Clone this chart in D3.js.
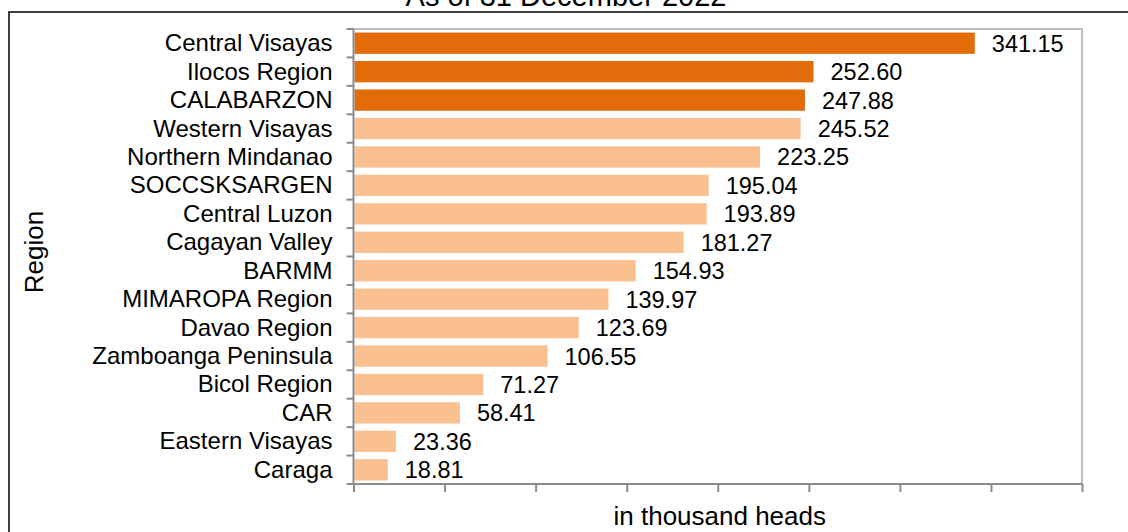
<!DOCTYPE html>
<html>
<head>
<meta charset="utf-8">
<script src="https://cdn.jsdelivr.net/npm/d3@7"></script>
<style>
  html, body { margin: 0; padding: 0; background: #fff; }
  svg { display: block; font-family: "Liberation Sans", Arial, sans-serif; }
</style>
</head>
<body>
<svg id="chart" width="1128" height="532"></svg>
<script>
// Regions ranked by inventory, in thousand heads
const regions = [
  "Central Visayas", "Ilocos Region", "CALABARZON", "Western Visayas",
  "Northern Mindanao", "SOCCSKSARGEN", "Central Luzon", "Cagayan Valley",
  "BARMM", "MIMAROPA Region", "Davao Region", "Zamboanga Peninsula",
  "Bicol Region", "CAR", "Eastern Visayas", "Caraga"
];
const heads = [
  341.15, 252.60, 247.88, 245.52,
  223.25, 195.04, 193.89, 181.27,
  154.93, 139.97, 123.69, 106.55,
  71.27, 58.41, 23.36, 18.81
];
const topCount = 3;
const xTicks = [0, 50, 100, 150, 200, 250, 300, 350, 400];
const titleText = "As of 31 December 2022";
const xTitle = "in thousand heads";
const yTitle = "Region";

const svg = d3.select("#chart");
const plot = { left: 353.5, right: 1082, top: 29, bottom: 484 };

// outer frame (runs off the right and bottom edges)
svg.append("rect")
  .attr("x", 9).attr("y", 12)
  .attr("width", 1140).attr("height", 540)
  .attr("fill", "none").attr("stroke", "#000").attr("stroke-width", 1.5);

// title, mostly above the visible area
svg.append("text")
  .attr("x", 566).attr("y", 6)
  .attr("text-anchor", "middle")
  .attr("font-size", 29)
  .attr("fill", "#000")
  .text(titleText);

const x = d3.scaleLinear().domain([0, 400]).range([plot.left, plot.right]);
const y = d3.scaleBand().domain(regions).range([plot.top, plot.bottom]).paddingInner(0.25).paddingOuter(0.125);

// plot area border (top and right)
svg.append("path")
  .attr("d", `M${plot.left},${plot.top}H${plot.right}V${plot.bottom}`)
  .attr("fill", "none").attr("stroke", "#BFBFBF").attr("stroke-width", 2);

// bars
svg.append("g").selectAll("rect")
  .data(regions)
  .join("rect")
  .attr("x", x(0) + 1)
  .attr("y", d => y(d))
  .attr("width", (d, i) => x(heads[i]) - x(0) - 1)
  .attr("height", y.bandwidth())
  .attr("fill", (d, i) => i < topCount ? "#E36C0A" : "#FAC090");

// value labels
svg.append("g").selectAll("text")
  .data(regions)
  .join("text")
  .attr("x", (d, i) => x(heads[i]) + 17)
  .attr("y", d => y(d) + y.bandwidth() / 2 + 8.5)
  .attr("font-size", 23.5)
  .attr("fill", "#000")
  .text((d, i) => heads[i].toFixed(2));

// y axis: line, band ticks, category labels
const yAxis = svg.append("g");
yAxis.append("line")
  .attr("x1", plot.left).attr("x2", plot.left)
  .attr("y1", plot.top).attr("y2", plot.bottom)
  .attr("stroke", "#8C8C8C").attr("stroke-width", 2);
const bandEdges = regions.map(d => y(d) - y.step() * y.paddingInner() / 2).concat([plot.bottom]);
yAxis.selectAll("line.tick")
  .data(bandEdges)
  .join("line")
  .attr("class", "tick")
  .attr("x1", plot.left - 7).attr("x2", plot.left)
  .attr("y1", d => d).attr("y2", d => d)
  .attr("stroke", "#8C8C8C").attr("stroke-width", 2);
yAxis.selectAll("text")
  .data(regions)
  .join("text")
  .attr("x", plot.left - 21)
  .attr("y", d => y(d) + y.bandwidth() / 2 + 8)
  .attr("text-anchor", "end")
  .attr("font-size", 24)
  .attr("fill", "#000")
  .text(d => d);

// x axis: line and unlabelled ticks
const xAxis = svg.append("g")
  .attr("transform", `translate(0,${plot.bottom})`)
  .call(d3.axisBottom(x).tickValues(xTicks).tickSize(8).tickFormat(""));
xAxis.select(".domain").attr("stroke", "#8C8C8C").attr("stroke-width", 2)
  .attr("d", `M${plot.left},0H${plot.right}`);
xAxis.selectAll(".tick line").attr("stroke", "#8C8C8C").attr("stroke-width", 2);

// axis titles
svg.append("text")
  .attr("x", (plot.left + plot.right) / 2 + 2).attr("y", 525)
  .attr("text-anchor", "middle")
  .attr("font-size", 26).attr("fill", "#000")
  .text(xTitle);

svg.append("text")
  .attr("transform", "translate(43,252) rotate(-90)")
  .attr("text-anchor", "middle")
  .attr("font-size", 26).attr("fill", "#000")
  .text(yTitle);
</script>
</body>
</html>
